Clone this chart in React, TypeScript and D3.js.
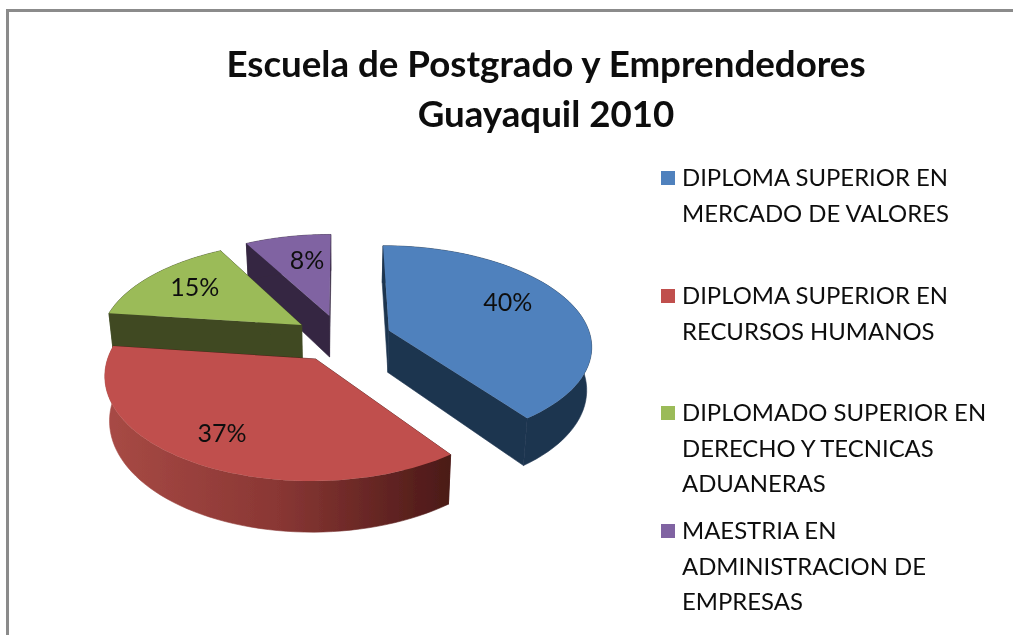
import * as d3 from "d3";

const title = ["Escuela de Postgrado y Emprendedores", "Guayaquil 2010"];
const values = [40, 37, 15, 8];
const valueLabels = ["40%", "37%", "15%", "8%"];
const legendLabels = [
  ["DIPLOMA SUPERIOR EN", "MERCADO DE VALORES"],
  ["DIPLOMA SUPERIOR EN", "RECURSOS HUMANOS"],
  ["DIPLOMADO SUPERIOR EN", "DERECHO Y TECNICAS", "ADUANERAS"],
  ["MAESTRIA EN", "ADMINISTRACION DE", "EMPRESAS"],
];
const topColors = ["#4f81bd", "#c0504d", "#9bbb59", "#8064a2"];
const cutColors = ["#1f3550", "#4c1a18", "#404a22", "#352842"];

const width = 1013;
const height = 635;

// pie is drawn in disk units (-1..1), then pushed through a small perspective
const originX = 341;
const originY = 338;
const radiusX = 202;
const radiusY = 98.5;
const perspective = 0.14;
const depth = 42.5;
const explode = [0.252, 0.24, 0.24, 0.24];
// verticals lean inward a bit going down
const lean = 0.02;
// label nudges from the r=0.7 spot
const labelNudge = [
  [-9, -9],
  [-10, 4],
  [0, -4],
  [8, 1],
];

type Pt = [number, number];

function project(u: number, v: number, z = 0): Pt {
  const k = 1 / (1 - perspective * v);
  return [originX + radiusX * u * k * (1 - lean * z), originY + (radiusY * v + depth * z) * k];
}

const linePath = d3.line<Pt>();

export default function App() {
  const arcs = d3
    .pie<number>()
    .sort(null)
    .startAngle(0)
    .endAngle(2 * Math.PI)(values);

  const slices = arcs.map((a, i) => {
    const mid = (a.startAngle + a.endAngle) / 2;
    const ox = explode[i] * Math.sin(mid);
    const oy = -explode[i] * Math.cos(mid);
    const at = (r: number, t: number, z = 0) =>
      project(ox + r * Math.sin(t), oy - r * Math.cos(t), z);
    const steps = d3.range(0, 61).map((s) => a.startAngle + ((a.endAngle - a.startAngle) * s) / 60);

    const rim = steps.map((t) => at(1, t));
    const rimLow = steps.map((t) => at(1, t, 1)).reverse();
    const top = [at(0, 0), ...rim];
    const cutStart = [at(0, 0), at(1, a.startAngle), at(1, a.startAngle, 1), at(0, 0, 1)];
    const cutEnd = [at(0, 0), at(1, a.endAngle), at(1, a.endAngle, 1), at(0, 0, 1)];
    const wall = [...rim, ...rimLow];
    const labelAt = at(0.7, mid);
    return {
      i,
      top,
      cutStart,
      cutEnd,
      wall,
      label: [labelAt[0] + labelNudge[i][0], labelAt[1] + labelNudge[i][1]],
    };
  });

  // back to front
  const drawOrder = [3, 2, 0, 1];

  const legendRows = [186, 304, 421, 539];

  return (
    <svg
      width={width}
      height={height}
      viewBox={`0 0 ${width} ${height}`}
      style={{ position: "absolute", left: 0, top: 0, display: "block", background: "#ffffff" }}
    >
      <defs>
        <linearGradient id="redWall" gradientUnits="userSpaceOnUse" x1={105} x2={447} y1={0} y2={0}>
          <stop offset="0%" stopColor="#a84a45" />
          <stop offset="50%" stopColor="#8a3734" />
          <stop offset="100%" stopColor="#4c1a18" />
        </linearGradient>
        <filter id="soft" x="-5%" y="-5%" width="110%" height="110%">
          <feGaussianBlur stdDeviation="0.45" />
        </filter>
      </defs>

      <g filter="url(#soft)">
        <path d={`M7.5,${height} V10.5 H${width}`} fill="none" stroke="#8b8b8b" strokeWidth={3} />

        {title.map((t, i) => (
          <text
            key={t}
            x={546}
            y={77 + i * 50}
            textAnchor="middle"
            fontFamily="Lato, 'Open Sans', sans-serif"
            fontWeight={700}
            fontSize={36.7}
            fill="#0a0a0a"
          >
            {t}
          </text>
        ))}

        {drawOrder.map((idx) => {
          const s = slices[idx];
          const wallFill = idx === 1 ? "url(#redWall)" : cutColors[idx];
          return (
            <g key={idx}>
              <path d={linePath(s.cutStart) + "Z"} fill={cutColors[idx]} stroke={cutColors[idx]} strokeWidth={0.6} />
              <path d={linePath(s.cutEnd) + "Z"} fill={cutColors[idx]} stroke={cutColors[idx]} strokeWidth={0.6} />
              <path d={linePath(s.wall) + "Z"} fill={wallFill} stroke={wallFill} strokeWidth={0.6} />
              <path d={linePath(s.top) + "Z"} fill={topColors[idx]} />
            </g>
          );
        })}

        {slices.map((s) => (
          <text
            key={s.i}
            x={s.label[0]}
            y={s.label[1]}
            textAnchor="middle"
            dominantBaseline="central"
            fontFamily="Lato, 'Open Sans', sans-serif"
            fontSize={25}
            fill="#111111"
          >
            {valueLabels[s.i]}
          </text>
        ))}

        {legendLabels.map((lines, i) => (
          <g key={i}>
            <rect x={661} y={legendRows[i] - 15} width={14} height={14} fill={topColors[i]} />
            {lines.map((l, j) => (
              <text
                key={l}
                x={682}
                y={legendRows[i] + j * 35.7}
                fontFamily="Lato, 'Open Sans', sans-serif"
                fontSize={23.9}
                fill="#111111"
              >
                {l}
              </text>
            ))}
          </g>
        ))}
      </g>
    </svg>
  );
}
